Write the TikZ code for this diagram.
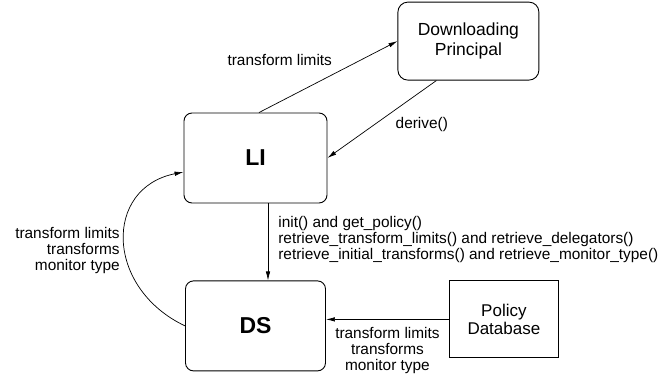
\documentclass[tikz,border=0pt]{standalone}
\usepackage{fontspec}
\setmainfont{Liberation Sans}
\usetikzlibrary{positioning}
\usetikzlibrary{arrows.meta}
\usetikzlibrary{calc}

\begin{document}
\begin{tikzpicture} [x=1pt, y=1pt, line width=0.7pt,
        >={Latex[length=9pt, width=4.5pt]},
        box/.style = {draw, line width=0.9pt, align=center, inner sep=0pt},
        unit/.style = {box, rounded corners=8pt, minimum width=143pt, minimum height=90pt, font=\fontsize{23}{26}\selectfont\bfseries},
        lbl/.style = {inner sep=0pt, font=\fontsize{15.4}{15.8}\selectfont}]
        \useasboundingbox (0,0) rectangle (660,-379);

        %Knoten
        \node[unit] (LI) at (255.5,-158) {LI};
        \node[unit, minimum width=140pt] (DS) [below = 77pt of LI] {DS};

        \node[box, rounded corners=10pt, minimum width=141pt, minimum height=78pt, font=\fontsize{17.5}{20}\selectfont] (DP) [above right = 32pt and 70pt of LI] {Downloading\\Principal};
        \node[box, minimum width=109pt, minimum height=77pt, font=\fontsize{17}{18}\selectfont] (PD) [right = 123pt of DS, yshift=6.5pt] {Policy\\Database};

        %Kanten
        \draw[->] ([xshift=3.5pt]LI.north) -- (DP.west) node[pos=0.15, above=36pt, lbl] {transform limits};
        \draw[->] ([xshift=-32pt]DP.south) -- (LI.east) node[pos=0.45, below right=2pt and 8pt, lbl] {derive()};
        \draw[->] ([xshift=12.5pt]LI.south) -- ([xshift=12.5pt]LI.south |- DS.north) node[pos=0.47, right=10pt, lbl, align=left] {init() and get\_policy()\\retrieve\_transform\_limits() and retrieve\_delegators()\\retrieve\_initial\_transforms() and retrieve\_monitor\_type()};
        \draw[->] (DS.west) .. controls ($(DS.west)+(-80,38)$) and ($(LI.west)+(-80,-30)$) .. ([yshift=-14pt]LI.west) node[pos=0.45, left=5pt, lbl, align=right] {transform limits\\transforms\\monitor type};
        \draw[->] (PD.west) -- (PD.west -| DS.east) node[midway, below=7.5pt, lbl, align=center] {transform limits\\transforms\\monitor type};

    \end{tikzpicture}
\end{document}
